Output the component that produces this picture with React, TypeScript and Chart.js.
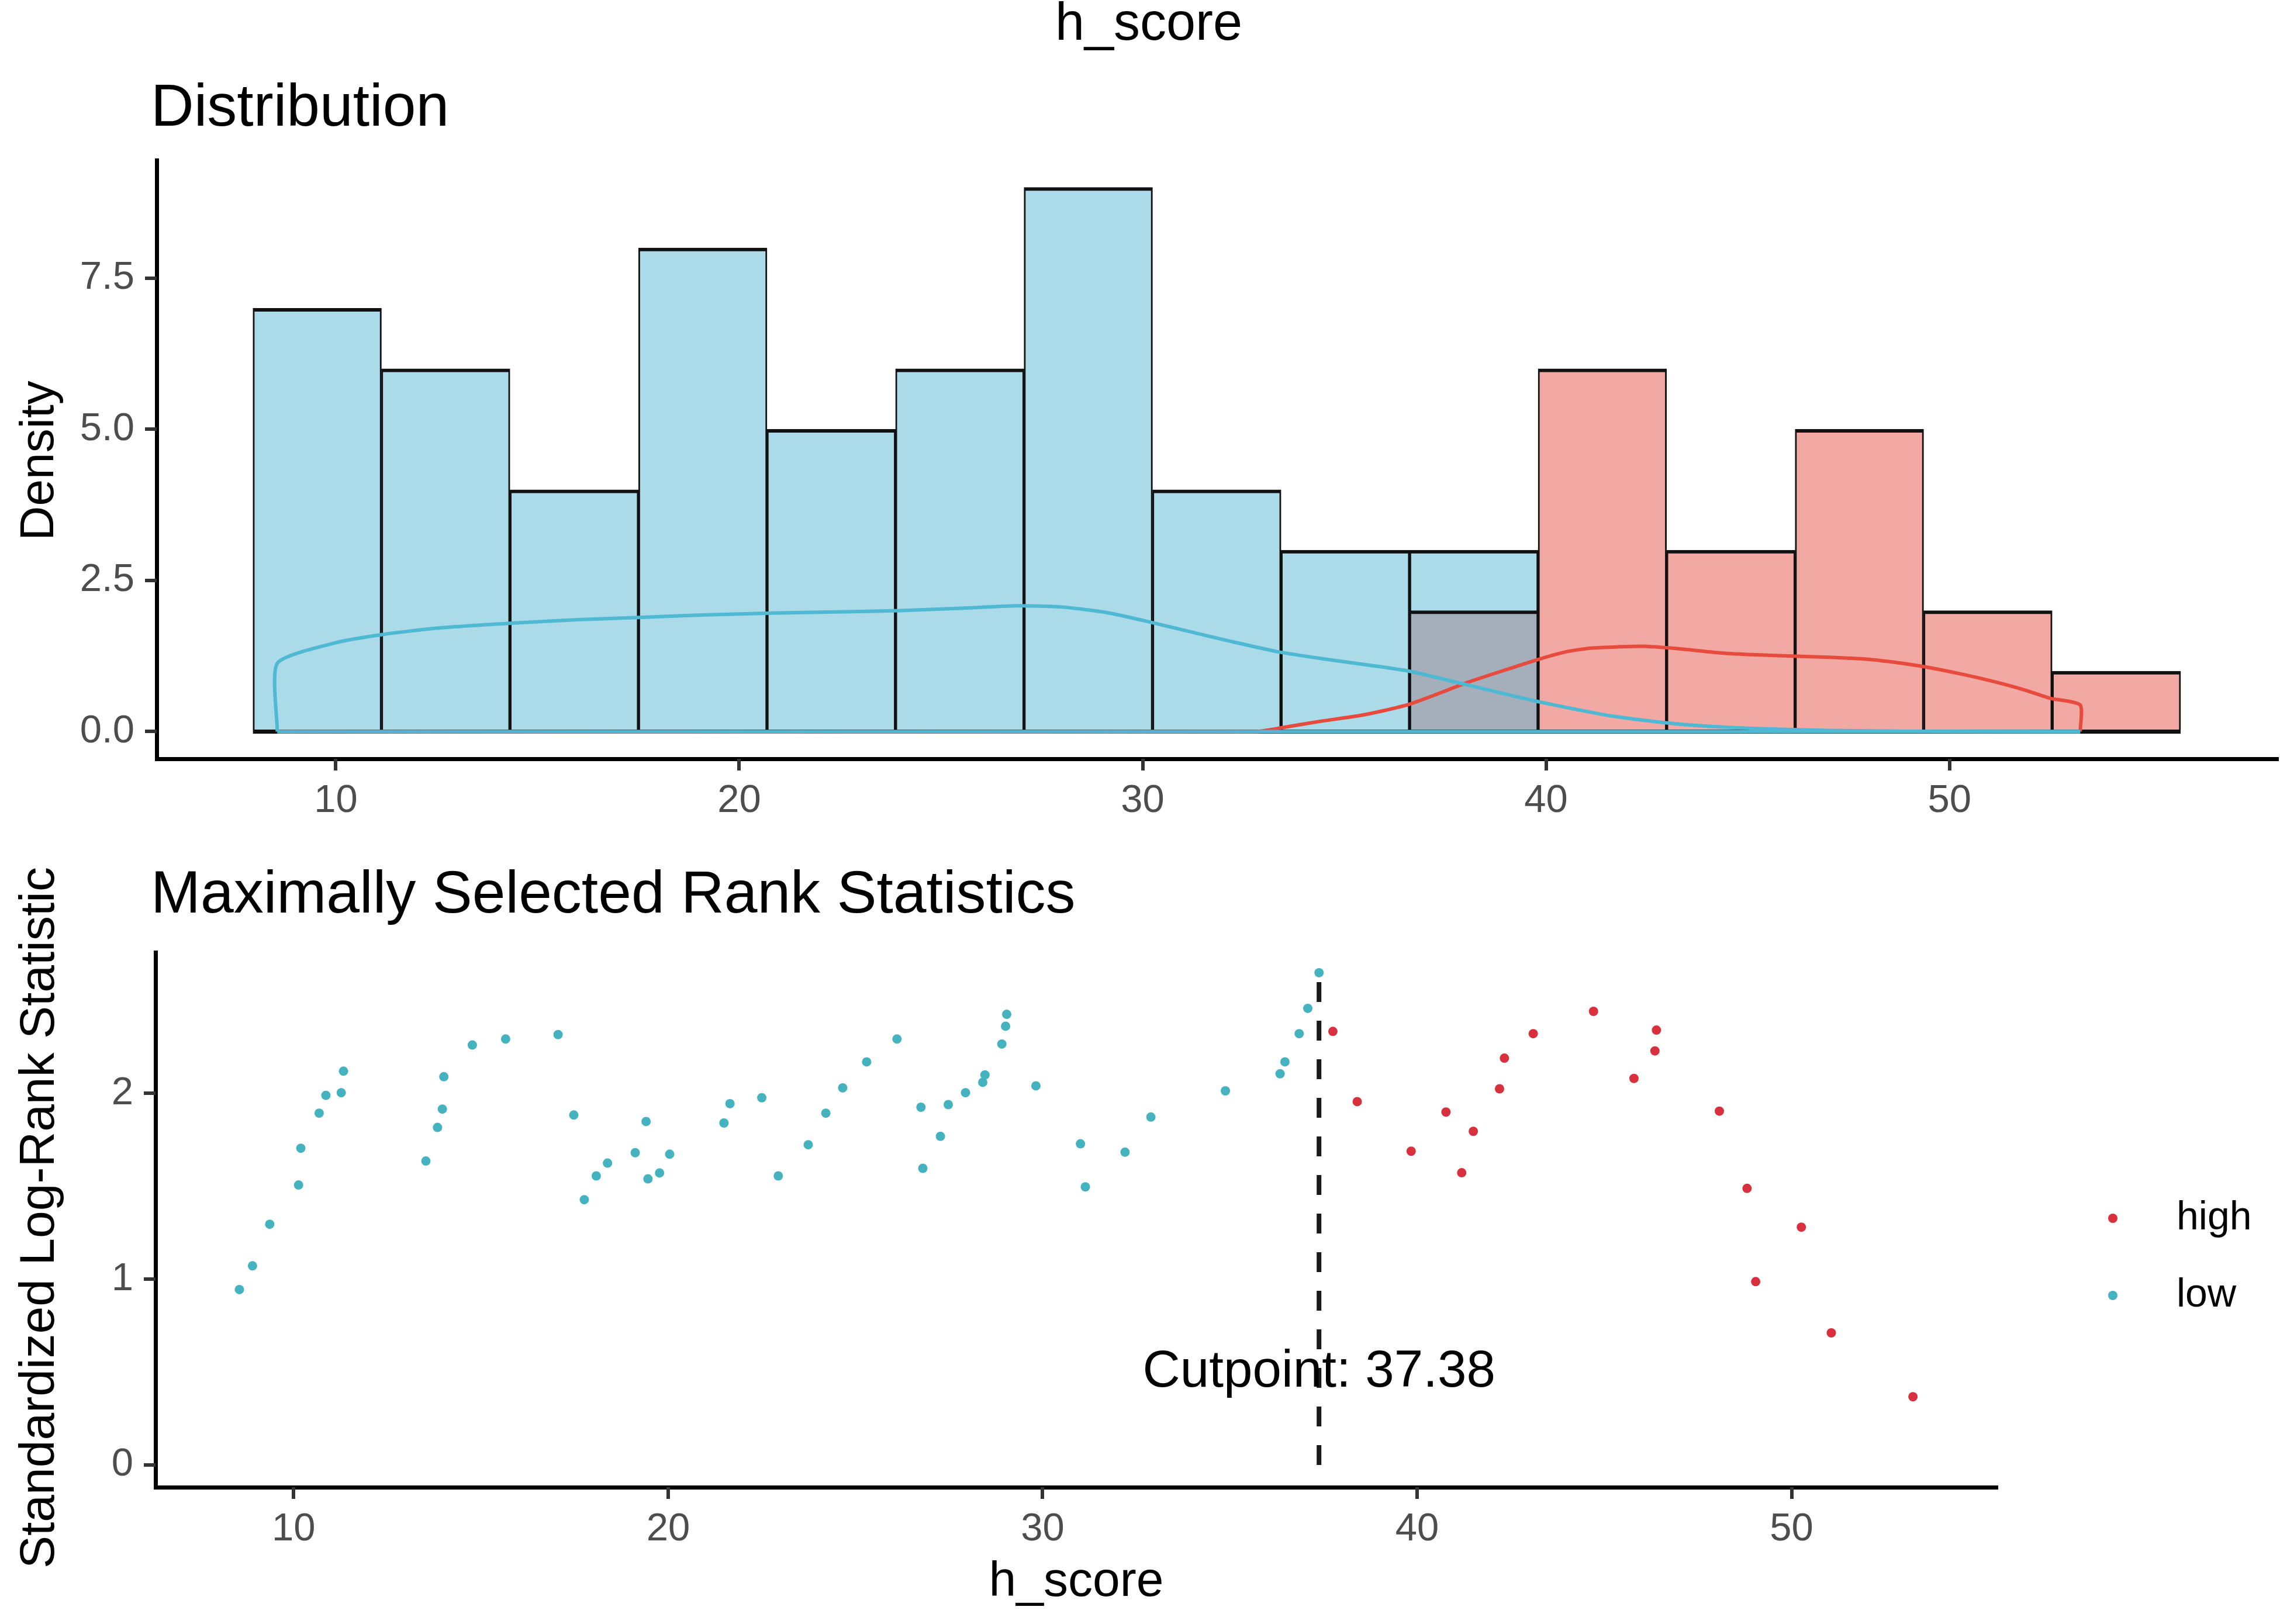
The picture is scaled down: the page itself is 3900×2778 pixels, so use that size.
import React, { useEffect, useRef } from "react";
import { Chart, registerables } from "chart.js";

Chart.register(...registerables);

// ---------------- data ----------------
const binEdges = [7.946, 11.132, 14.317, 17.503, 20.689, 23.874, 27.06, 30.245, 33.431, 36.617, 39.802, 42.988, 46.174, 49.359, 52.545, 55.73];
const lowCounts = [7, 6, 4, 8, 5, 6, 9, 4, 3, 3, 0, 0, 0, 0, 0];
const highCounts = [0, 0, 0, 0, 0, 0, 0, 0, 0, 2, 6, 3, 5, 2, 1];

const densLowX = [8.55, 8.55, 10.0, 11.2, 12.5, 14.3, 16.0, 17.6, 19.2, 20.8, 22.4, 24.0, 25.5, 26.9, 28.0, 29.1, 30.0, 31.0, 32.2, 33.35, 34.5, 35.6, 36.6, 38.0, 39.0, 39.84, 40.8, 41.6, 42.9, 44.0, 45.2, 47.0, 49.0, 53.24];
const densLowY = [0, 1.13, 1.47, 1.61, 1.71, 1.79, 1.85, 1.89, 1.93, 1.96, 1.98, 2.0, 2.04, 2.08, 2.06, 1.97, 1.84, 1.68, 1.49, 1.32, 1.2, 1.1, 1.0, 0.78, 0.62, 0.49, 0.36, 0.26, 0.15, 0.09, 0.05, 0.02, 0.005, 0];

const densHighX = [8.55, 32.8, 33.5, 34.4, 35.34, 36.0, 36.6, 37.3, 38.04, 38.9, 39.84, 40.5, 41.1, 42.36, 43.3, 44.34, 45.2, 46.1, 47.0, 47.9, 48.7, 49.4, 50.3, 51.2, 51.9, 52.5, 53.24, 53.24];
const densHighY = [0, 0, 0.07, 0.17, 0.26, 0.35, 0.45, 0.62, 0.81, 1.0, 1.2, 1.32, 1.38, 1.41, 1.37, 1.3, 1.27, 1.25, 1.23, 1.2, 1.14, 1.07, 0.95, 0.81, 0.68, 0.55, 0.44, 0];

const lowX = [8.55, 8.9, 9.36, 10.13, 10.19, 10.68, 10.86, 11.27, 11.33, 13.53, 13.84, 13.97, 14.01, 14.77, 15.66, 17.06, 17.48, 17.76, 18.08, 18.38, 19.12, 19.41, 19.46, 19.77, 20.04, 21.49, 21.65, 22.5, 22.94, 23.74, 24.21, 24.66, 25.3, 26.11, 26.75, 26.8, 27.27, 27.48, 27.94, 28.4, 28.46, 28.91, 29.01, 29.04, 29.82, 31.01, 31.14, 32.2, 32.89, 34.88, 36.34, 36.47, 36.85, 37.08, 37.38];
const lowY = [0.944, 1.072, 1.296, 1.507, 1.705, 1.894, 1.99, 2.004, 2.12, 1.636, 1.817, 1.916, 2.09, 2.261, 2.293, 2.317, 1.884, 1.428, 1.556, 1.625, 1.681, 1.849, 1.54, 1.572, 1.673, 1.841, 1.945, 1.977, 1.556, 1.724, 1.894, 2.03, 2.17, 2.293, 1.926, 1.597, 1.769, 1.94, 2.004, 2.06, 2.1, 2.266, 2.362, 2.426, 2.041, 1.729, 1.497, 1.684, 1.873, 2.014, 2.106, 2.17, 2.322, 2.458, 2.65];

const highX = [37.75, 38.4, 39.84, 40.77, 41.19, 41.5, 42.2, 42.33, 43.1, 44.71, 45.79, 46.35, 46.39, 48.07, 48.81, 49.04, 50.26, 51.06, 53.24];
const highY = [2.334, 1.956, 1.689, 1.9, 1.573, 1.796, 2.025, 2.19, 2.322, 2.442, 2.081, 2.229, 2.341, 1.905, 1.489, 0.987, 1.28, 0.711, 0.367];

const cutpoint = 37.38;
const maxStat = 2.65;
const groupLabels = ["high", "low"];

const xTickValues = [10, 20, 30, 40, 50];
const topYTicks = [0, 2.5, 5, 7.5];
const botYTicks = [0, 1, 2];

// ---------------- styles ----------------
const FONT = '"Liberation Sans", Arial, Helvetica, sans-serif';
const LOW_FILL = "#ABDAE9";
const HIGH_FILL = "#F3A9A3";
const OVERLAP_FILL = "#A5AFBC";
const LOW_LINE = "#4FB8D2";
const HIGH_LINE = "#E64B3E";
const LOW_PT = "#45B2C0";
const HIGH_PT = "#D9303E";
const TICK_COLOR = "#4D4D4D";
const TICK_LEN = 20;

type TextItem = {
  text: string;
  x: number;
  y: number;
  size: number;
  color?: string;
  align?: CanvasTextAlign;
  baseline?: CanvasTextBaseline;
  rotate?: boolean;
};

function drawTickMarks(chart: any, xVals: number[], yVals: number[]) {
  const ctx: CanvasRenderingContext2D = chart.ctx;
  const xs = chart.scales.x;
  const ys = chart.scales.y;
  const area = chart.chartArea;
  ctx.save();
  ctx.strokeStyle = "#333333";
  ctx.lineWidth = 6;
  ctx.lineCap = "butt";
  for (const v of xVals) {
    const px = Math.round(xs.getPixelForValue(v));
    ctx.beginPath();
    ctx.moveTo(px, area.bottom);
    ctx.lineTo(px, area.bottom + TICK_LEN);
    ctx.stroke();
  }
  for (const v of yVals) {
    const py = Math.round(ys.getPixelForValue(v));
    ctx.beginPath();
    ctx.moveTo(area.left, py);
    ctx.lineTo(area.left - TICK_LEN, py);
    ctx.stroke();
  }
  ctx.restore();
}

function makeTextPlugin(id: string, getItems: (chart: any) => TextItem[], extra?: (chart: any) => void) {
  return {
    id,
    afterDraw(chart: any) {
      const ctx: CanvasRenderingContext2D = chart.ctx;
      ctx.save();
      if (extra) extra(chart);
      for (const it of getItems(chart)) {
        ctx.save();
        ctx.font = `${it.size}px ${FONT}`;
        ctx.fillStyle = it.color || "#000000";
        ctx.textAlign = it.align || "left";
        ctx.textBaseline = it.baseline || "alphabetic";
        ctx.translate(it.x, it.y);
        if (it.rotate) ctx.rotate(-Math.PI / 2);
        ctx.fillText(it.text, 0, 0);
        ctx.restore();
      }
      ctx.restore();
    },
  };
}

function axisCommon(tickValues: number[], fmt: (v: number) => string, padding: number) {
  return {
    type: "linear" as const,
    offset: false,
    grid: {
      display: true,
      offset: false,
      drawOnChartArea: false,
      drawTicks: true,
      tickLength: TICK_LEN,
      lineWidth: 6,
      color: "#333333",
    },
    border: { display: true, color: "#000000", width: 7 },
    ticks: {
      font: { size: 67, family: FONT },
      color: TICK_COLOR,
      padding,
      maxRotation: 0,
      autoSkip: false,
      callback: (v: any) => fmt(Number(v)),
    },
    afterBuildTicks: (s: any) => {
      s.ticks = tickValues.map((v) => ({ value: v }));
    },
  };
}

function topConfig(): any {
  const centers = lowCounts.map((_, i) => (binEdges[i] + binEdges[i + 1]) / 2);
  const highColors = highCounts.map((c, i) => (c > 0 && lowCounts[i] > 0 ? OVERLAP_FILL : HIGH_FILL));
  const barBorder = { top: 6, left: 3, right: 3, bottom: 0 };
  return {
    type: "bar",
    data: {
      datasets: [
        {
          type: "bar",
          label: "low",
          data: centers.map((x, i) => ({ x, y: lowCounts[i] > 0 ? lowCounts[i] : null })),
          backgroundColor: LOW_FILL,
          borderColor: "#111111",
          borderWidth: barBorder,
          borderSkipped: false,
          barPercentage: 1,
          categoryPercentage: 1,
          grouped: false,
          order: 6,
        },
        {
          type: "bar",
          label: "high",
          data: centers.map((x, i) => ({ x, y: highCounts[i] > 0 ? highCounts[i] : null })),
          backgroundColor: highColors,
          borderColor: "#111111",
          borderWidth: barBorder,
          borderSkipped: false,
          barPercentage: 1,
          categoryPercentage: 1,
          grouped: false,
          order: 5,
        },
        {
          type: "line",
          label: "baseline",
          data: [
            { x: binEdges[0], y: 0 },
            { x: binEdges[binEdges.length - 1], y: 0 },
          ],
          borderColor: "#111111",
          borderWidth: 7,
          pointRadius: 0,
          order: 4,
        },
        {
          type: "line",
          label: "high density",
          data: densHighX.map((x, i) => ({ x, y: densHighY[i] })),
          borderColor: HIGH_LINE,
          borderWidth: 6,
          pointRadius: 0,
          tension: 0.2,
          fill: false,
          order: 3,
        },
        {
          type: "line",
          label: "low density baseline",
          data: [
            { x: densLowX[0], y: 0 },
            { x: densLowX[densLowX.length - 1], y: 0 },
          ],
          borderColor: LOW_LINE,
          borderWidth: 6,
          pointRadius: 0,
          order: 2,
        },
        {
          type: "line",
          label: "low density",
          data: densLowX.map((x, i) => ({ x, y: densLowY[i] })),
          borderColor: LOW_LINE,
          borderWidth: 6,
          pointRadius: 0,
          tension: 0.2,
          fill: false,
          order: 1,
        },
      ],
    },
    options: {
      animation: false,
      responsive: false,
      devicePixelRatio: 1,
      layout: { padding: { top: 274, left: 0, right: 5, bottom: 12 } },
      plugins: { legend: { display: false }, title: { display: false }, tooltip: { enabled: false } },
      scales: {
        x: {
          ...axisCommon(xTickValues, (v) => String(v), 12),
          min: 5.56,
          max: 58.12,
          afterFit: (s: any) => {
            s.height = 110;
          },
        },
        y: {
          ...axisCommon(topYTicks, (v) => v.toFixed(1), 18),
          min: -0.45,
          max: 9.45,
          afterFit: (s: any) => {
            s.width = 268;
          },
        },
      },
    },
    plugins: [
      makeTextPlugin(
        "topTexts",
        () => [
          { text: "h_score", x: 1965, y: 68, size: 90, align: "center" },
          { text: "Distribution", x: 258, y: 215, size: 102 },
          { text: "Density", x: 91, y: 788, size: 82, align: "center", rotate: true },
        ],
        (chart: any) => drawTickMarks(chart, xTickValues, topYTicks)
      ),
    ],
  };
}

function bottomConfig(): any {
  const OFF = 1420;
  return {
    type: "scatter",
    data: {
      datasets: [
        {
          type: "scatter",
          label: groupLabels[0],
          data: highX.map((x, i) => ({ x, y: highY[i] })),
          backgroundColor: HIGH_PT,
          borderWidth: 0,
          pointRadius: 8,
          order: 1,
        },
        {
          type: "scatter",
          label: groupLabels[1],
          data: lowX.map((x, i) => ({ x, y: lowY[i] })),
          backgroundColor: LOW_PT,
          borderWidth: 0,
          pointRadius: 8,
          order: 1,
        },
        {
          type: "line",
          label: "cutpoint",
          data: [
            { x: cutpoint, y: 0 },
            { x: cutpoint, y: maxStat },
          ],
          showLine: true,
          borderColor: "#1A1A1A",
          borderWidth: 8,
          borderDash: [34, 32],
          pointRadius: 0,
          order: 2,
        },
      ],
    },
    options: {
      animation: false,
      responsive: false,
      devicePixelRatio: 1,
      layout: { padding: { top: 209, left: 0, right: 485, bottom: 124 } },
      plugins: { legend: { display: false }, title: { display: false }, tooltip: { enabled: false } },
      scales: {
        x: {
          ...axisCommon(xTickValues, (v) => String(v), 12),
          min: 6.31,
          max: 55.47,
          afterFit: (s: any) => {
            s.height = 110;
          },
        },
        y: {
          ...axisCommon(botYTicks, (v) => String(v), 18),
          min: -0.12,
          max: 2.76,
          afterFit: (s: any) => {
            s.width = 266;
          },
        },
      },
    },
    plugins: [
      makeTextPlugin(
        "botTexts",
        (chart: any) => {
          const xs = chart.scales.x;
          const ys = chart.scales.y;
          return [
            { text: "Maximally Selected Rank Statistics", x: 258, y: 1561 - OFF, size: 102 },
            { text: "Standardized Log-Rank Statistic", x: 92, y: 2083 - OFF, size: 84, align: "center", rotate: true },
            { text: "h_score", x: 1841, y: 2730 - OFF, size: 84, align: "center" },
            {
              text: `Cutpoint: ${cutpoint.toFixed(2)}`,
              x: xs.getPixelForValue(cutpoint),
              y: ys.getPixelForValue(0.5),
              size: 89,
              align: "center",
              baseline: "middle",
            },
            { text: groupLabels[0], x: 3723, y: 2084 - OFF, size: 68, baseline: "middle" },
            { text: groupLabels[1], x: 3723, y: 2216 - OFF, size: 68, baseline: "middle" },
          ];
        },
        (chart: any) => {
          drawTickMarks(chart, xTickValues, botYTicks);
          const ctx: CanvasRenderingContext2D = chart.ctx;
          const dots = [
            { y: 2084 - OFF, c: HIGH_PT },
            { y: 2216 - OFF, c: LOW_PT },
          ];
          for (const d of dots) {
            ctx.beginPath();
            ctx.fillStyle = d.c;
            ctx.arc(3614, d.y, 8, 0, Math.PI * 2);
            ctx.fill();
          }
        }
      ),
    ],
  };
}

export default function App() {
  const topRef = useRef<HTMLCanvasElement>(null);
  const botRef = useRef<HTMLCanvasElement>(null);

  useEffect(() => {
    Chart.defaults.font.family = FONT;
    const c1 = new Chart(topRef.current as HTMLCanvasElement, topConfig());
    const c2 = new Chart(botRef.current as HTMLCanvasElement, bottomConfig());
    return () => {
      c1.destroy();
      c2.destroy();
    };
  }, []);

  return (
    <div
      style={{
        position: "absolute",
        left: 0,
        top: 0,
        width: 3900,
        height: 2778,
        background: "#ffffff",
        overflow: "hidden",
      }}
    >
      <canvas
        ref={topRef}
        width={3900}
        height={1420}
        style={{ position: "absolute", left: 0, top: 0, width: 3900, height: 1420 }}
      />
      <canvas
        ref={botRef}
        width={3900}
        height={1358}
        style={{ position: "absolute", left: 0, top: 1420, width: 3900, height: 1358 }}
      />
    </div>
  );
}
